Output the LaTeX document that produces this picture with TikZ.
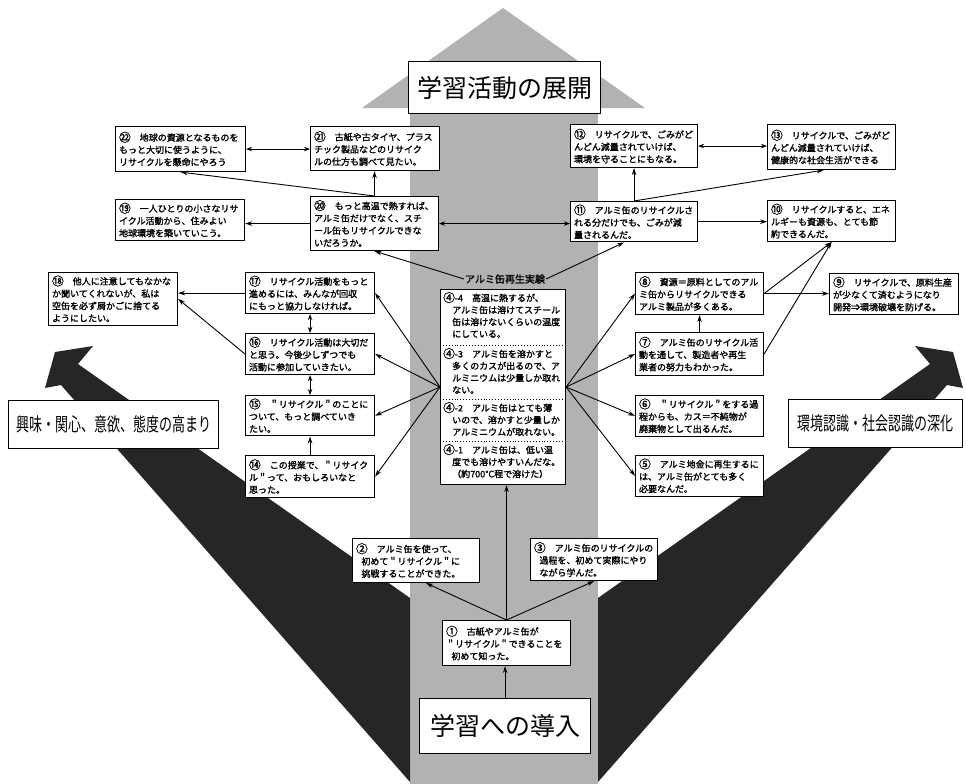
\documentclass[tikz,border=0pt]{standalone}
\usepackage{fontspec}
\newfontfamily\jp{Noto Sans CJK JP}
\newfontfamily\jpb{Noto Sans CJK JP}[FakeBold=1.6]
\usetikzlibrary{arrows.meta,calc}
\newcommand{\cn}[1]{\raisebox{-0.08em}{\scalebox{1.3}{#1}}}
\newcommand{\mybox}[6]{%
  \pgfmathsetmacro{\mybw}{#4-#2}%
  \pgfmathsetmacro{\mybh}{#5-#3}%
  \pgfmathsetmacro{\mytw}{#4-#2-7}%
  \node[box, anchor=north west, minimum width=\mybw pt, minimum height=\mybh pt, text width=\mytw pt] (#1) at (#2,#3) {#6};%
}
\begin{document}
\begin{tikzpicture}[x=1pt,y=-1pt,
  box/.style={draw, line width=1.1pt, fill=white, inner sep=3pt, align=left,
    font=\jpb\fontsize{9}{12.3}\selectfont},
  ctext/.style={inner sep=2pt, align=left, text width=119pt,
    font=\jpb\fontsize{9}{12}\selectfont},
  bigbox/.style={draw, line width=1.2pt, fill=white, inner sep=2pt,
    font=\jp\fontsize{25}{25}\selectfont},
  sidebox/.style={draw, line width=1.2pt, fill=white, inner sep=2pt,
    font=\jp\fontsize{13}{13}\selectfont},
  arr/.style={draw, line width=0.9pt, -{Stealth[length=7pt,width=4.5pt]}},
  dbl/.style={draw, line width=0.9pt, {Stealth[length=6pt,width=4.5pt]}-{Stealth[length=6pt,width=4.5pt]}},
  band/.style={fill=black!30},
  darkarrow/.style={fill=black!85}
]
\useasboundingbox (0,0) rectangle (966,784);
\fill[white] (0,0) rectangle (966,784);

% central band and top arrow head
\fill[band] (410,108) rectangle (598,784);
\fill[band] (362,108) -- (503,8) -- (645,108) -- cycle;

% big dark arrows
\fill[darkarrow] (410,598) -- (78,364) -- (93,346) -- (55,352) -- (45,388) -- (61,385) -- (410,782) -- cycle;
\fill[darkarrow] (598,598) -- (930,364) -- (915,346) -- (953,352) -- (963,388) -- (947,385) -- (598,782) -- cycle;

% headings
\node[bigbox, anchor=north west, minimum width=192pt, minimum height=52pt] (title) at (408,61) {学習活動の展開};
\node[bigbox, anchor=north west, minimum width=171pt, minimum height=55pt] (intro) at (419,698) {学習への導入};
\node[sidebox, anchor=north west, minimum width=210pt, minimum height=48pt] (lleft) at (8,400) {\scalebox{1}[1.45]{興味・関心、意欲、態度の高まり}};
\node[sidebox, anchor=north west, minimum width=174pt, minimum height=48pt] (lright) at (788,399) {\scalebox{1}[1.45]{環境認識・社会認識の深化}};

% top rows
\mybox{n22}{115}{126}{245}{171}{\cn{㉒}　地球の資源となるものを\\もっと大切に使うように、\\リサイクルを懸命にやろう}
\mybox{n21}{310}{126}{439}{170}{\cn{㉑}　古紙や古タイヤ、プラス\\チック製品などのリサイク\\ルの仕方も調べて見たい。}
\mybox{n12}{570}{124}{697}{167}{\cn{⑫}　リサイクルで、ごみがど\\んどん減量されていけば、\\環境を守ることにもなる。}
\mybox{n13}{767}{124}{895}{169}{\cn{⑬}　リサイクルで、ごみがど\\んどん減量されていけば、\\健康的な社会生活ができる}
\mybox{n19}{115}{199}{244}{240}{\cn{⑲}　一人ひとりの小さなリサ\\イクル活動から、住みよい\\地球環境を築いていこう。}
\mybox{n20}{310}{196}{438}{250}{\cn{⑳}　もっと高温で熱すれば、\\アルミ缶だけでなく、スチ\\ール缶もリサイクルできな\\いだろうか。}
\mybox{n11}{570}{201}{697}{241}{\cn{⑪}　アルミ缶のリサイクルさ\\れる分だけでも、ごみが減\\量されるんだ。}
\mybox{n10}{767}{200}{895}{241}{\cn{⑩}　リサイクルすると、エネ\\ルギーも資源も、とても節\\約できるんだ。}

% left column
\mybox{n18}{48}{272}{177}{324}{\cn{⑱}　他人に注意してもなかな\\か聞いてくれないが、私は\\空缶を必ず屑かごに捨てる\\ようにしたい。}
\mybox{n17}{245}{272}{374}{313}{\cn{⑰}　リサイクル活動をもっと\\進めるには、みんなが回収\\にもっと協力しなければ。}
\mybox{n16}{245}{333}{374}{374}{\cn{⑯}　リサイクル活動は大切だ\\と思う。今後少しずつでも\\活動に参加していきたい。}
\mybox{n15}{245}{395}{374}{435}{\cn{⑮}　＂リサイクル＂のことに\\ついて、もっと調べていき\\たい。}
\mybox{n14}{245}{455}{374}{497}{\cn{⑭}　この授業で、＂リサイク\\ル＂って、おもしろいなと\\思った。}

% right column
\mybox{n8}{635}{272}{763}{314}{\cn{⑧}　資源＝原料としてのアル\\ミ缶からリサイクルできる\\アルミ製品が多くある。}
\mybox{n7}{635}{332}{763}{375}{\cn{⑦}　アルミ缶のリサイクル活\\動を通して、製造者や再生\\業者の努力もわかった。}
\mybox{n6}{635}{395}{763}{435}{\cn{⑥}　＂リサイクル＂をする過\\程からも、カス＝不純物が\\廃棄物として出るんだ。}
\mybox{n5}{635}{455}{763}{495}{\cn{⑤}　アルミ地金に再生するに\\は、アルミ缶がとても多く\\必要なんだ。}
\mybox{n9}{829}{273}{958}{314}{\cn{⑨}　リサイクルで、原料生産\\が少なくて済むようになり\\開発⇒環境破壊を防げる。}

% centre experiment box
\node[font=\jpb\fontsize{10}{10}\selectfont, inner sep=1pt] (lab) at (505,279) {アルミ缶再生実験};
\node[draw, line width=1.1pt, fill=white, anchor=north west, minimum width=125pt, minimum height=195pt, inner sep=0pt] (nc) at (440,289) {};
\node[ctext, anchor=north west] (c4) at (441,290) {\cn{④}-4　高温に熱するが、\\\hspace*{1em}アルミ缶は溶けてスチール\\\hspace*{1em}缶は溶けないくらいの温度\\\hspace*{1em}にしている。};
\node[ctext, anchor=north west] (c3) at (441,346) {\cn{④}-3　アルミ缶を溶かすと\\\hspace*{1em}多くのカスが出るので、ア\\\hspace*{1em}ルミニウムは少量しか取れ\\\hspace*{1em}ない。};
\node[ctext, anchor=north west] (c2) at (441,400) {\cn{④}-2　アルミ缶はとても薄\\\hspace*{1em}いので、溶かすと少量しか\\\hspace*{1em}アルミニウムが取れない。};
\node[ctext, anchor=north west] (c1) at (441,442) {\cn{④}-1　アルミ缶は、低い温\\\hspace*{1em}度でも溶けやすいんだな。\\\hspace*{1em}（約700℃程で溶けた）};
\draw[dotted, line width=0.9pt] (440,345) -- (565,345);
\draw[dotted, line width=0.9pt] (440,399) -- (565,399);
\draw[dotted, line width=0.9pt] (440,441) -- (565,441);

% bottom boxes
\mybox{n2}{352}{538}{479}{582}{\cn{②}　アルミ缶を使って、\\\hspace*{0.6em}初めて＂リサイクル＂に\\\hspace*{0.6em}挑戦することができた。}
\mybox{n3}{530}{538}{657}{580}{\cn{③}　アルミ缶のリサイクルの\\\hspace*{0.6em}過程を、初めて実際にやり\\\hspace*{0.6em}ながら学んだ。}
\mybox{n1}{442}{620}{570}{665}{\cn{①}　古紙やアルミ缶が\\＂リサイクル＂できることを\\\hspace*{0.6em}初めて知った。}

% connectors
\draw[arr] (intro.north) -- (intro.north |- n1.south);
\draw[arr] (n1.north) -- (n1.north |- nc.south);
\draw[arr] (n1.north) -- ([xshift=10pt]n2.south);
\draw[arr] (n1.north) -- (n3.south);
\foreach \t in {n17,n16,n15,n14} \draw[arr] (nc.west) -- (\t.east);
\foreach \t in {n8,n7,n6,n5} \draw[arr] (nc.east) -- (\t.west);
\draw[arr] (lab.west) -- (n20.south);
\draw[arr] (lab.east) -- ([xshift=-10pt]n11.south);
\draw[dbl] (n20.east) -- (n20.east -| n11.west);
\draw[arr] (n20.west) -- (n20.west -| n19.east);
\draw[arr] (n20.north) -- (n20.north |- n21.south);
\draw[arr] (n20.north) -- (n22.south);
\draw[dbl] (n22.east) -- (n22.east -| n21.west);
\draw[arr] (n11.north) -- (n11.north |- n12.south);
\draw[arr] (n11.north) -- ([xshift=-8pt]n13.south);
\draw[dbl] (n12.east) -- (n12.east -| n13.west);
\draw[arr] (n11.east) -- (n11.east -| n10.west);
\draw[arr] (n8.east) -- (n8.east -| n9.west);
\draw[arr] (n8.east) -- (n10.south);
\draw[arr] (n7.east) -- (n10.south);
\draw[arr] (n7.north) -- (n7.north |- n8.south);
\draw[arr] (n14.north) -- (n14.north |- n15.south);
\draw[dbl] (n15.north) -- (n15.north |- n16.south);
\draw[dbl] (n16.north) -- (n16.north |- n17.south);
\draw[arr] (n17.west) -- (n17.west -| n18.east);
\draw[arr] (n16.west) -- (n18.east);
\end{tikzpicture}
\end{document}
